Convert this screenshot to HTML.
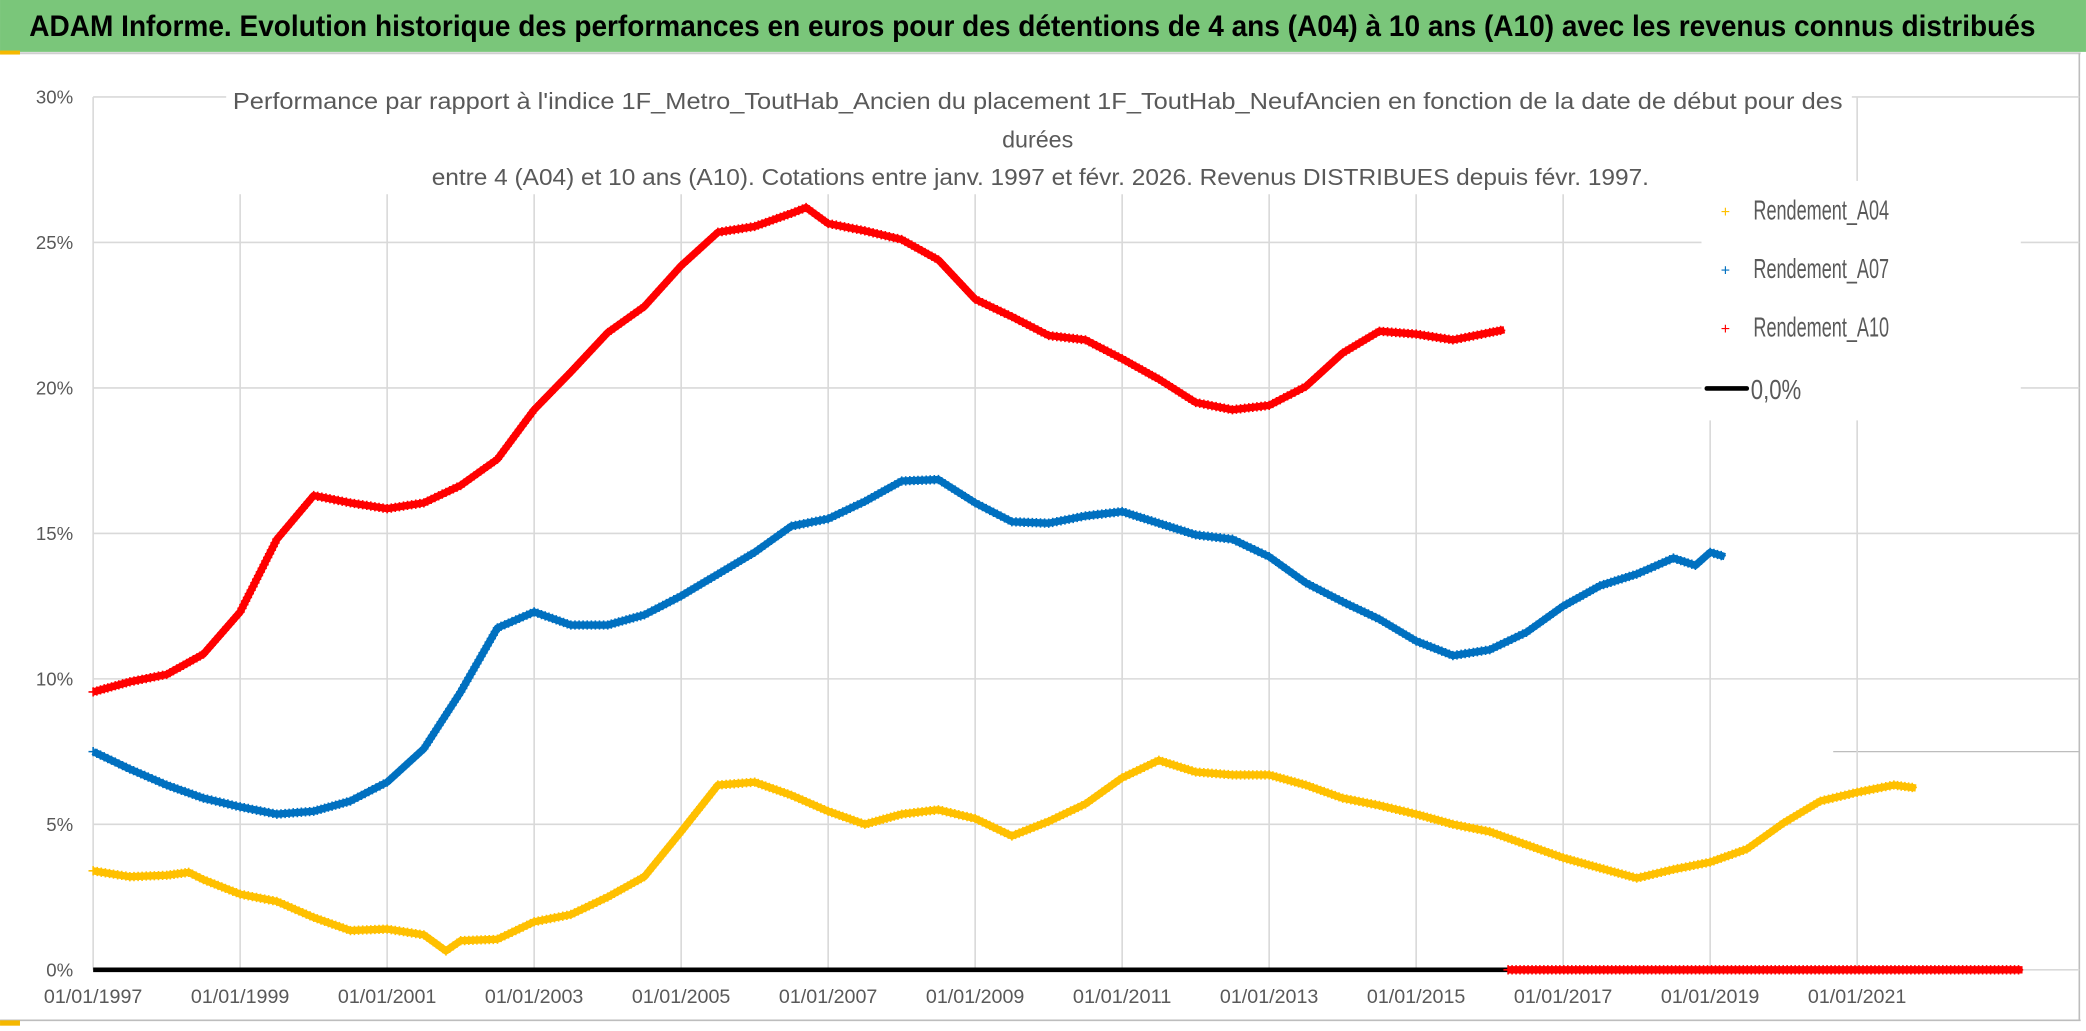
<!DOCTYPE html>
<html><head><meta charset="utf-8"><style>
html,body{margin:0;padding:0;background:#fff;}
svg{display:block;}
text{font-family:"Liberation Sans Narrow","Liberation Sans",sans-serif;}
.ls{font-family:"Liberation Sans",sans-serif;}
</style></head><body>
<svg id="chart" width="2086" height="1031" viewBox="0 0 1568 775" xmlns="http://www.w3.org/2000/svg">
<rect x="0" y="0" width="1568" height="775" fill="#fff"/>
<rect x="0" y="0" width="1568" height="39" fill="#7ac67a"/>
<text x="776" y="27" text-anchor="middle" font-size="22" font-weight="bold" fill="#000" textLength="1508" lengthAdjust="spacingAndGlyphs">ADAM Informe. Evolution historique des performances en euros pour des détentions de 4 ans (A04) à 10 ans (A10) avec les revenus connus distribués</text>
<line x1="0" y1="40" x2="1564" y2="40" stroke="#cfcfcf" stroke-width="1.5"/>
<rect x="0" y="38" width="15" height="3" fill="#f5b800"/>
<line x1="1563" y1="40" x2="1563" y2="767" stroke="#bdbdbd" stroke-width="1.2"/>
<line x1="0" y1="767" x2="1564" y2="767" stroke="#bdbdbd" stroke-width="1.2"/>
<rect x="0" y="767" width="15" height="4" fill="#f5b800"/>
<line x1="1378" y1="565" x2="1563" y2="565" stroke="#bdbdbd" stroke-width="1"/>
<g id="grid"></g>
<g id="axes"></g>
<rect x="170" y="62" width="1222" height="84" fill="#fff"/>
<g fill="#595959" font-size="17.5">
<text class="ls" x="780" y="82" text-anchor="middle" textLength="1210" lengthAdjust="spacingAndGlyphs">Performance par rapport à l'indice 1F_Metro_ToutHab_Ancien  du placement 1F_ToutHab_NeufAncien en fonction de la date de début pour des</text>
<text class="ls" x="780" y="111" text-anchor="middle">durées</text>
<text class="ls" x="782" y="139" text-anchor="middle" textLength="915" lengthAdjust="spacingAndGlyphs">entre 4 (A04) et 10 ans (A10). Cotations entre janv. 1997 et févr. 2026. Revenus DISTRIBUES depuis févr. 1997.</text>
</g>
<g id="series"></g>
<rect x="1279" y="136" width="240" height="180" fill="#fff"/>
<g font-size="21" fill="#595959">
<g><text x="1297" y="163" fill="#ffc000" font-size="12" text-anchor="middle">+</text><text x="1318" y="165" textLength="102" lengthAdjust="spacingAndGlyphs">Rendement_A04</text></g>
<g><text x="1297" y="207" fill="#0070c0" font-size="12" text-anchor="middle">+</text><text x="1318" y="209" textLength="102" lengthAdjust="spacingAndGlyphs">Rendement_A07</text></g>
<g><text x="1297" y="251" fill="#ff0000" font-size="12" text-anchor="middle">+</text><text x="1318" y="253" textLength="102" lengthAdjust="spacingAndGlyphs">Rendement_A10</text></g>
<g><line x1="1283" y1="292" x2="1313" y2="292" stroke="#000" stroke-width="3.5" stroke-linecap="round"/><text x="1316" y="300" textLength="38" lengthAdjust="spacingAndGlyphs">0,0%</text></g>
</g>
</svg>
<script>
// ---- data ----
const yTicks = [0, 5, 10, 15, 20, 25, 30];
const yTickLabels = ["0%", "5%", "10%", "15%", "20%", "25%", "30%"];
const xTicks = [1997, 1999, 2001, 2003, 2005, 2007, 2009, 2011, 2013, 2015, 2017, 2019, 2021];
const xTickLabels = ["01/01/1997","01/01/1999","01/01/2001","01/01/2003","01/01/2005","01/01/2007","01/01/2009","01/01/2011","01/01/2013","01/01/2015","01/01/2017","01/01/2019","01/01/2021"];
const a04Dates = [1997,1997.5,1998,1998.3,1998.5,1999,1999.5,2000,2000.5,2001,2001.5,2001.8,2002,2002.5,2003,2003.5,2004,2004.5,2005,2005.5,2006,2006.5,2007,2007.5,2008,2008.5,2009,2009.5,2010,2010.5,2011,2011.5,2012,2012.5,2013,2013.5,2014,2014.5,2015,2015.5,2016,2016.5,2017,2017.5,2018,2018.5,2019,2019.5,2020,2020.5,2021,2021.5,2021.8];
const a04Values = [3.4,3.2,3.25,3.35,3.1,2.6,2.35,1.8,1.35,1.4,1.2,0.65,1.0,1.05,1.65,1.9,2.5,3.2,4.75,6.35,6.45,6.0,5.45,5.0,5.35,5.5,5.2,4.6,5.1,5.7,6.6,7.2,6.8,6.7,6.7,6.35,5.9,5.65,5.35,5.0,4.75,4.3,3.85,3.5,3.15,3.45,3.7,4.15,5.05,5.8,6.1,6.35,6.25];
const a07Dates = [1997,1997.5,1998,1998.5,1999,1999.5,2000,2000.5,2001,2001.5,2002,2002.5,2003,2003.5,2004,2004.5,2005,2005.5,2006,2006.5,2007,2007.5,2008,2008.5,2009,2009.5,2010,2010.5,2011,2011.5,2012,2012.5,2013,2013.5,2014,2014.5,2015,2015.5,2016,2016.5,2017,2017.5,2018,2018.5,2018.8,2019,2019.2];
const a07Values = [7.5,6.9,6.35,5.9,5.6,5.35,5.45,5.8,6.45,7.6,9.55,11.75,12.3,11.85,11.85,12.2,12.85,13.6,14.35,15.25,15.5,16.1,16.8,16.85,16.05,15.4,15.35,15.6,15.75,15.35,14.95,14.8,14.2,13.3,12.65,12.05,11.3,10.8,11.0,11.6,12.5,13.2,13.6,14.15,13.9,14.35,14.2];
const a10Dates = [1997,1997.5,1998,1998.5,1999,1999.5,2000,2000.5,2001,2001.5,2002,2002.5,2003,2003.5,2004,2004.5,2005,2005.5,2006,2006.5,2006.7,2007,2007.5,2008,2008.5,2009,2009.5,2010,2010.5,2011,2011.5,2012,2012.5,2013,2013.5,2014,2014.5,2015,2015.5,2016,2016.2];
const a10Values = [9.55,9.9,10.15,10.85,12.3,14.8,16.3,16.05,15.85,16.05,16.65,17.55,19.25,20.55,21.9,22.8,24.2,25.35,25.55,26.0,26.2,25.65,25.4,25.1,24.4,23.05,22.45,21.8,21.65,21.0,20.3,19.5,19.25,19.4,20.05,21.2,21.95,21.85,21.65,21.9,22.0];
const a10ZeroRange = [2016.25, 2023.25];
const zeroLineRange = [1997, 2023.25];

// ---- axes ----
const X0 = 70, PX_PER_YEAR = 55.25, Y0 = 729, PX_PER_PCT = 21.87;
const xs = t => X0 + (t - 1997) * PX_PER_YEAR;
const ys = v => Y0 - v * PX_PER_PCT;
const NS = "http://www.w3.org/2000/svg";
function mk(tag, attrs, parent){ const e=document.createElementNS(NS,tag); for(const k in attrs) e.setAttribute(k,attrs[k]); parent.appendChild(e); return e; }
const grid=document.getElementById('grid'), axes=document.getElementById('axes'), series=document.getElementById('series');
const plotRight = 1563;
yTicks.forEach((v,i)=>{
  const l=mk('line',{x1:X0,x2:plotRight,y1:ys(v),y2:ys(v),stroke:'#d9d9d9','stroke-width':1.2},grid);
  
  
  const t=mk('text',{x:55,y:ys(v)+5,'text-anchor':'end','font-size':14,fill:'#595959'},axes);
  t.textContent=yTickLabels[i];
  
  
});
xTicks.forEach((d,i)=>{
  const l=mk('line',{x1:xs(d),x2:xs(d),y1:ys(30),y2:Y0,stroke:'#d9d9d9','stroke-width':1.2},grid);
  
  
  const t=mk('text',{x:xs(d),y:754,'text-anchor':'middle','font-size':14.5,fill:'#595959',textLength:74,lengthAdjust:'spacingAndGlyphs'},axes);
  t.textContent=xTickLabels[i];
  
  
});

// zero line
const zl=mk('line',{x1:xs(zeroLineRange[0]),x2:xs(zeroLineRange[1]),y1:ys(0),y2:ys(0),stroke:'#000','stroke-width':3.5},series);



function drawSeries(dates, vals, color, name){
  const pts = dates.map((d,i)=>[xs(d), ys(vals[i])]);
  const g = mk('g',{},series);
  
  
  mk('polyline',{points:pts.map(p=>p.join(',')).join(' '),fill:'none',stroke:color,'stroke-width':5.5,'stroke-linejoin':'round'},g);
  let d='';
  for(let i=0;i<pts.length-1;i++){
    const [x1,y1]=pts[i],[x2,y2]=pts[i+1];
    const L=Math.hypot(x2-x1,y2-y1), n=Math.max(1,Math.round(L/3));
    for(let k=0;k<n;k++){
      const x=x1+(x2-x1)*k/n, y=y1+(y2-y1)*k/n;
      d+=`M${(x-3.5).toFixed(1)},${y.toFixed(1)}h7M${x.toFixed(1)},${(y-3.5).toFixed(1)}v7`;
    }
  }
  mk('path',{d:d,stroke:color,'stroke-width':1.2,fill:'none'},g);
}
drawSeries(a04Dates,a04Values,'#ffc000','series-a04');
drawSeries(a07Dates,a07Values,'#0070c0','series-a07');
drawSeries(a10Dates,a10Values,'#ff0000','series-a10');
drawSeries(a10ZeroRange,[0,0],'#ff0000','series-a10-zero-tail');
</script>
</body></html>
